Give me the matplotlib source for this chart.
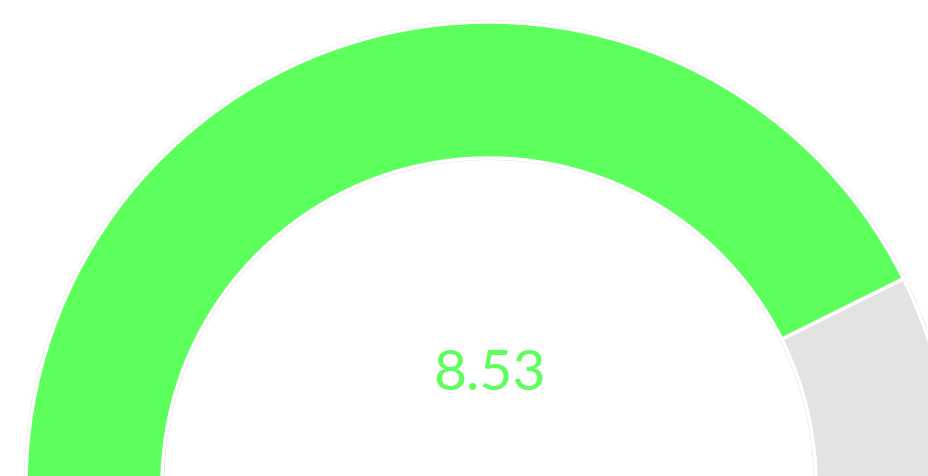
import matplotlib
matplotlib.use("Agg")
import matplotlib.pyplot as plt
from matplotlib.patches import Wedge, Arc

# Gauge data
value = 8.53
gauge_min = 0.0
gauge_max = 10.0
value_label = "8.53"

W, H = 929, 476
fig = plt.figure(figsize=(W / 100, H / 100), dpi=100)
ax = fig.add_axes([0, 0, 1, 1])
ax.set_xlim(0, W)
ax.set_ylim(0, H)
ax.set_aspect("equal")
ax.axis("off")

# Geometry in pixel units (y measured from the bottom of the canvas)
cx, cy = 489, H - 485
r_out, r_in = 463, 327
band = r_out - r_in

green = "#5cff5c"
grey = "#e3e3e3"

frac = (value - gauge_min) / (gauge_max - gauge_min)
split_angle = 180 - 180 * frac

ax.add_patch(Wedge((cx, cy), r_out, split_angle, 180, width=band,
                   facecolor=green, edgecolor="white", linewidth=2.5, zorder=2))
ax.add_patch(Wedge((cx, cy), r_out, 0, split_angle, width=band,
                   facecolor=grey, edgecolor="white", linewidth=2.5, zorder=2))

# faint outline around the band
for rad in (r_out + 1.5, r_in - 1.5):
    ax.add_patch(Arc((cx, cy), 2 * rad, 2 * rad, theta1=0, theta2=180,
                     color="#d9d9d9", linewidth=0.8, zorder=1))

ax.text(490, H - 374, value_label, color=green, fontsize=41,
        family=["Lato", "DejaVu Sans"], ha="center", va="center", zorder=3)

fig.savefig("out.png", dpi=100, facecolor="white")
